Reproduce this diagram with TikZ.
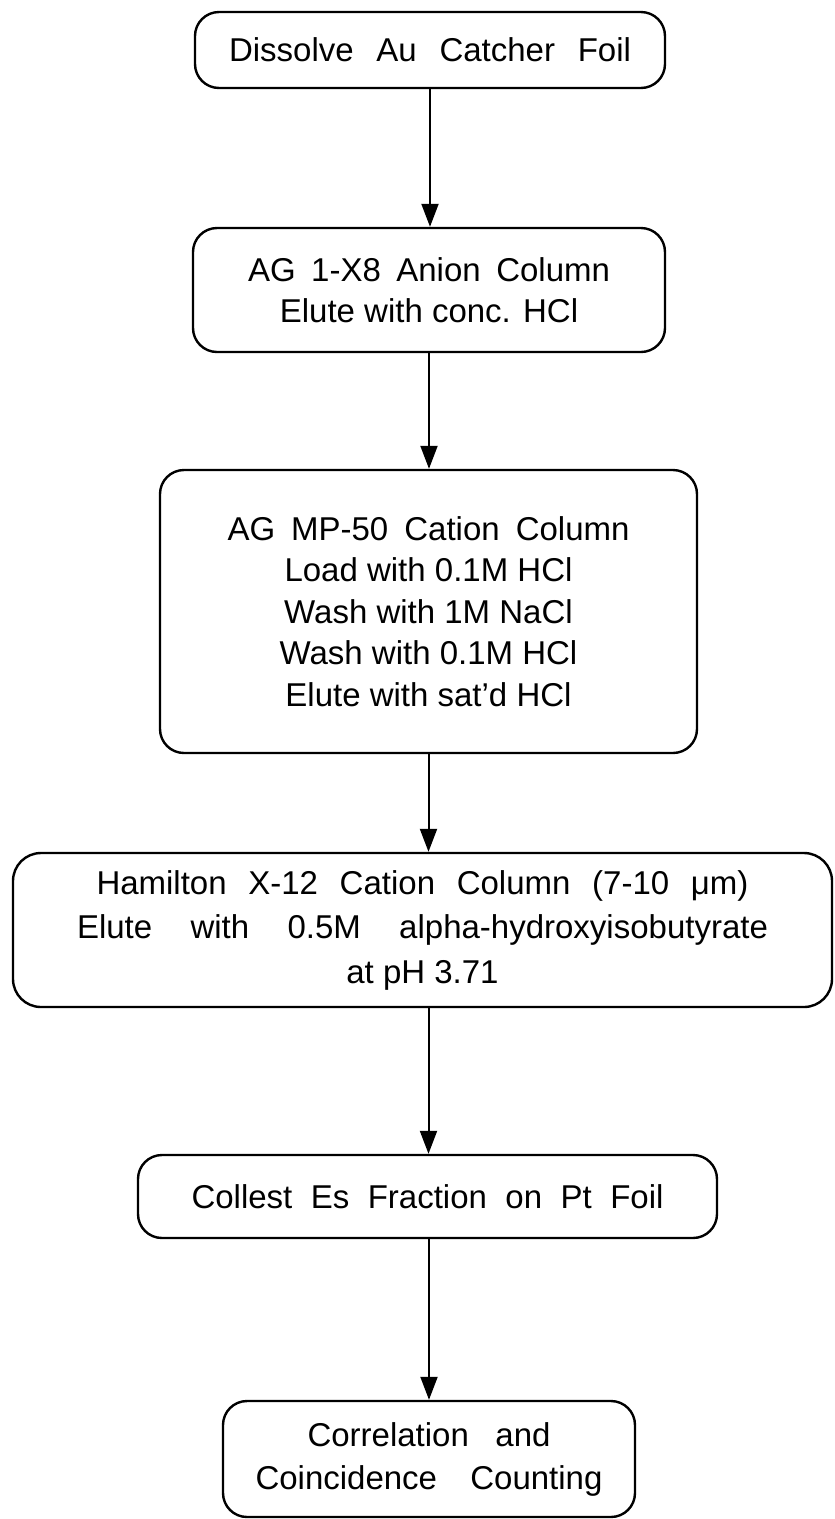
\documentclass[tikz,border=0pt]{standalone}
\usepackage{fontspec}
\setmainfont{Liberation Sans}
\usetikzlibrary{arrows.meta}
\newcommand{\sline}[2]{\makebox[#1pt][s]{#2}}
\begin{document}
\begin{tikzpicture}[x=1pt,y=-1pt,
  box/.style={draw, line width=2.4pt, rounded corners=24pt, inner sep=0pt, align=center,
    font=\fontsize{33}{41.5}\selectfont},
  arr/.style={line width=2pt, -{Triangle[width=17pt,length=23pt]}}]
\useasboundingbox (0,0) rectangle (835,1519);
\node[box, minimum width=470pt, minimum height=76pt] (b1) at (430,50)
  {\sline{402}{Dissolve Au Catcher Foil}};
\node[box, minimum width=472pt, minimum height=124pt] (b2) at (429,290)
  {\sline{362}{AG 1-X8 Anion Column}\\Elute with conc. HCl};
\node[box, minimum width=537pt, minimum height=283pt] (b3) at (428.5,611.5)
  {\sline{402}{AG MP-50 Cation Column}\\Load with 0.1M HCl\\Wash with 1M NaCl\\Wash with 0.1M HCl\\Elute with sat'd HCl};
\node[box, minimum width=819pt, minimum height=154pt, rounded corners=28pt, font=\fontsize{33}{44.5}\selectfont] (b4) at (422.5,930)
  {\sline{652}{Hamilton X-12 Cation Column (7-10 μm)}\\\sline{691}{Elute with 0.5M alpha-hydroxyisobutyrate}\\at pH 3.71};
\node[box, minimum width=579pt, minimum height=83pt] (b5) at (427.5,1196.5)
  {\sline{472}{Collest Es Fraction on Pt Foil}};
\node[box, minimum width=412pt, minimum height=116pt, font=\fontsize{33}{43}\selectfont] (b6) at (429,1459)
  {\sline{243}{Correlation and}\\\sline{347}{Coincidence Counting}};
\draw[arr] (b1.south) -- (b1.south |- b2.north);
\draw[arr] (b2.south) -- (b2.south |- b3.north);
\draw[arr] (b3.south) -- (b3.south |- b4.north);
\draw[arr] (b4.south -| b3.south) -- (b3.south |- b5.north);
\draw[arr] (b5.south -| b6.north) -- (b6.north);
\end{tikzpicture}
\end{document}
